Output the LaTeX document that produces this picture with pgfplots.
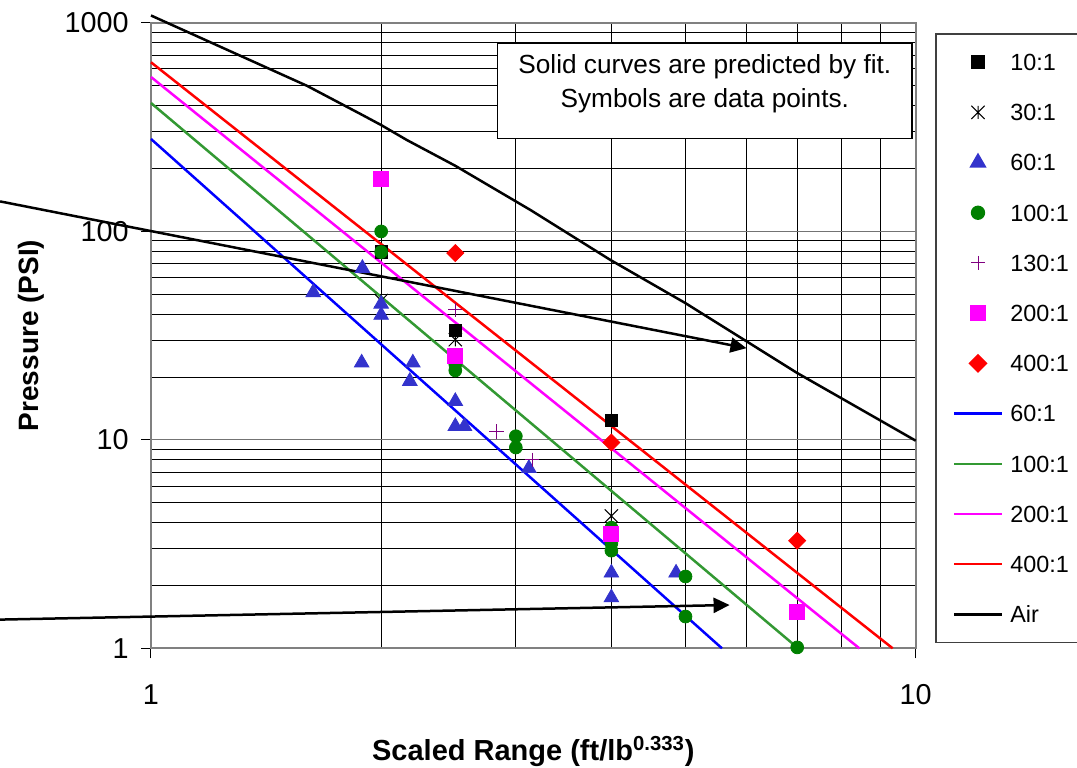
\documentclass[border=0pt]{standalone}
\usepackage{fontspec}
\setmainfont{Liberation Sans}
\usepackage{pgfplots}
\pgfplotsset{compat=1.18}
\usetikzlibrary{arrows.meta}
\definecolor{tri}{HTML}{3333CC}
\definecolor{dgreen}{HTML}{008000}
\definecolor{lgreen}{HTML}{339933}
\definecolor{purp}{HTML}{800080}
\definecolor{mag}{HTML}{FF00FF}
\definecolor{pblue}{HTML}{0000FF}
\definecolor{pred}{HTML}{FF0000}
\pgfdeclareplotmark{xstar}{%
 \pgfpathmoveto{\pgfqpoint{-\pgfplotmarksize}{-\pgfplotmarksize}}\pgfpathlineto{\pgfqpoint{\pgfplotmarksize}{\pgfplotmarksize}}%
 \pgfpathmoveto{\pgfqpoint{-\pgfplotmarksize}{\pgfplotmarksize}}\pgfpathlineto{\pgfqpoint{\pgfplotmarksize}{-\pgfplotmarksize}}%
 \pgfpathmoveto{\pgfqpoint{0pt}{-\pgfplotmarksize}}\pgfpathlineto{\pgfqpoint{0pt}{\pgfplotmarksize}}%
 \pgfusepathqstroke}
\pgfplotsset{
 mleg/.style={legend image code/.code={\draw[mark repeat=2,mark phase=2,##1] plot coordinates {(0pt,0pt)(12pt,0pt)(24pt,0pt)};}},
 lleg/.style={legend image code/.code={\draw[##1] (0pt,0pt) -- (24pt,0pt);}},
}
\begin{document}
\begin{tikzpicture}
\begin{axis}[
 xmode=log, ymode=log,
 scale only axis, width=382.35pt, height=312.8pt,
 at={(0,0)}, anchor=south west,
 xmin=1, xmax=10, ymin=1, ymax=1000,
 xtick={1,10}, xticklabels={1,10},
 ytick={1,10,100,1000}, yticklabels={1,10,100,1000},
 minor xtick={2,3,4,5,6,7,8,9},
 minor ytick={2,3,4,5,6,7,8,9,20,30,40,50,60,70,80,90,200,300,400,500,600,700,800,900},
 tick pos=left, tick align=outside, major tick length=5pt, minor tick length=0pt,
 grid=both,
 major grid style={black!55, line width=0.5pt},
 minor grid style={black, line width=0.5pt},
 axis line style={black!50, line width=1pt},
 tick style={black, line width=0.5pt},
 ticklabel style={font=\fontsize{14.4}{16}\selectfont},
 yticklabel style={anchor=east, inner sep=0pt, xshift=-6pt},
 xticklabel style={anchor=base, inner sep=0pt, yshift=-23pt},
 every axis x label/.style={at={(axis description cs:0.5,-0.1797)}, anchor=base, font=\fontsize{14.5}{17}\selectfont\bfseries},
 every axis y label/.style={at={(axis description cs:-0.157,0.5)}, rotate=90, anchor=center, font=\fontsize{14}{17}\selectfont\bfseries},
 xlabel={Scaled Range (ft/lb\textsuperscript{0.333})},
 ylabel={Pressure (PSI)},
 clip=false,
 legend cell align=left,
 legend style={at={(1.02524,0.98306)}, anchor=north west, draw=black!75, line width=0.75pt, fill=white,
   inner xsep=8.5pt, inner ysep=1.5pt, row sep=0pt, column sep=3.5pt,
   font=\fontsize{11.7}{14}\selectfont,
   nodes={inner sep=0pt, text height=8.4pt, text depth=0pt, minimum height=25.1pt}},
]
% data points
\addplot[only marks, mark=square*, mark size=3.1pt, black, mleg] coordinates {(2,79.5) (2.5,33.4) (4,12.4)};
\addlegendentry{10:1}
\addplot[only marks, mark=xstar, mark size=3.3pt, black, line width=0.5pt, mleg] coordinates {(2,46.5) (2.5,30.2) (4,4.31)};
\addlegendentry{30:1}
\addplot[only marks, mark=triangle*, mark size=4.2pt, tri, mleg] coordinates {
 (1.63,50.9) (1.89,66.5) (1.886,23.4) (2,44.8) (2,39.6) (2.18,19.1) (2.2,23.4)
 (2.5,15.3) (2.5,11.6) (2.57,11.6) (3.12,7.3) (4,2.3) (4,1.75) (4.86,2.3)};
\addlegendentry{60:1}
\addplot[only marks, mark=*, mark size=3.2pt, dgreen, mleg] coordinates {
 (2,99.8) (2,79.5) (2.5,23) (2.5,21.5) (3,10.4) (3,9.18) (4,3.79) (4,3.19) (4,2.94)
 (5,2.21) (5,1.42) (7,1.01)};
\addlegendentry{100:1}
\addplot[only marks, mark=+, mark size=3.6pt, purp, line width=0.5pt, mleg] coordinates {(2.5,42) (2.83,10.95) (3.15,8.01)};
\addlegendentry{130:1}
\addplot[only marks, mark=square*, mark size=3.75pt, mag, mleg] coordinates {(2,178) (2.5,25.3) (4,3.52) (7,1.49)};
\addlegendentry{200:1}
\addplot[only marks, mark=square*, mark size=3pt, mark options={rotate=45}, pred, mleg] coordinates {(2.5,78.6) (4,9.7) (7,3.28)};
\addlegendentry{400:1}
% fit curves
\addplot[pblue, line width=1.25pt, lleg] coordinates {(1,277) (5.58,1)};
\addlegendentry{60:1}
\addplot[lgreen, line width=1.25pt, lleg] coordinates {(1,412) (7.02,1)};
\addlegendentry{100:1}
\addplot[mag, line width=1.25pt, lleg] coordinates {(1,549) (8.44,1)};
\addlegendentry{200:1}
\addplot[pred, line width=1.25pt, lleg] coordinates {(1,646) (9.33,1)};
\addlegendentry{400:1}
\addplot[black, line width=1.25pt, lleg] coordinates {(1,1083) (1.6,498) (1.89,361) (2,323) (2.16,274) (2.5,206) (3.14,126) (3.99,72.8) (5,45.2) (7,20.9) (10,9.9)};
\addlegendentry{Air}
% annotations
\draw[black, line width=0.75pt, fill=white] (axis cs:2.840,800) rectangle (axis cs:9.889,277.9);
\node[anchor=base, font=\fontsize{13.1}{16}\selectfont] at (axis cs:5.30,570) {Solid curves are predicted by fit.};
\node[anchor=base, font=\fontsize{13.1}{16}\selectfont] at (axis cs:5.30,390) {Symbols are data points.};
\draw[black, line width=1.25pt, -{Triangle[length=8pt,width=7.5pt]}] (axis cs:0.635,139) -- (axis cs:6.008,27.5);
\draw[black, line width=1.25pt, -{Triangle[length=8pt,width=7.5pt]}] (axis cs:0.635,1.373) -- (axis cs:5.71,1.613);
\end{axis}
\pgfresetboundingbox
\useasboundingbox (-75.5pt,-59.35pt) rectangle (463pt,324.15pt);
\end{tikzpicture}
\end{document}
